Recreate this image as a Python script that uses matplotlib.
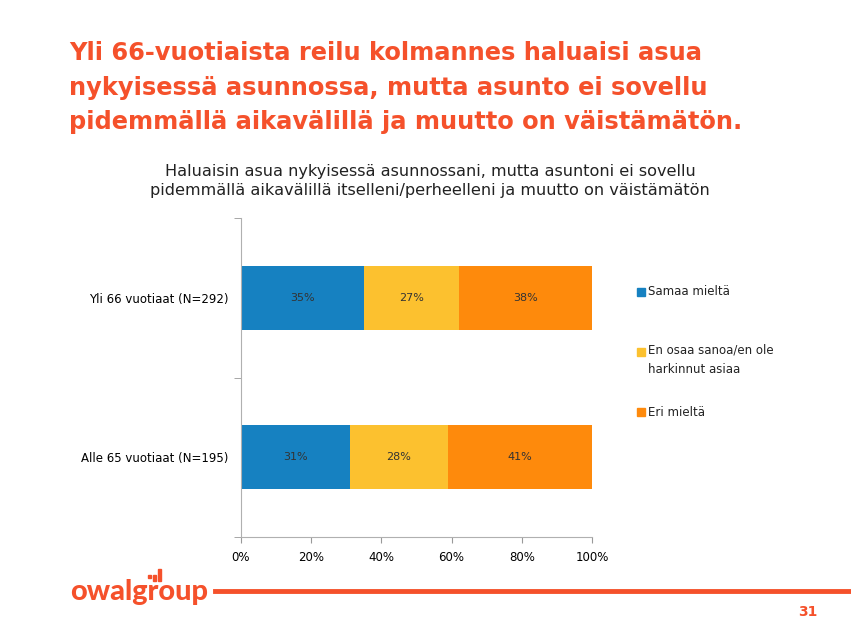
import matplotlib.pyplot as plt
from matplotlib.patches import Rectangle

plt.rcParams['font.family'] = ['DejaVu Sans']

# Data
groups = ['Alle 65 vuotiaat (N=195)', 'Yli 66 vuotiaat (N=292)']
series = ['Samaa mieltä', 'En osaa sanoa/en ole\nharkinnut asiaa', 'Eri mieltä']
values = {
    'Samaa mieltä': [31, 35],
    'En osaa sanoa/en ole\nharkinnut asiaa': [28, 27],
    'Eri mieltä': [41, 38],
}
colors = ['#1681C1', '#FCC12F', '#FE8A0C']
accent = '#F5512B'

fig = plt.figure(figsize=(8.51, 6.38), dpi=100)

# Title
fig.text(69 / 851, 1 - 41 / 638,
         'Yli 66-vuotiaista reilu kolmannes haluaisi asua\n'
         'nykyisessä asunnossa, mutta asunto ei sovellu\n'
         'pidemmällä aikavälillä ja muutto on väistämätön.',
         color=accent, fontsize=17.4, fontweight='bold',
         va='top', ha='left', linespacing=1.56)

# Chart subtitle
fig.text(430 / 851, 1 - 181 / 638,
         'Haluaisin asua nykyisessä asunnossani, mutta asuntoni ei sovellu\n'
         'pidemmällä aikavälillä itselleni/perheelleni ja muutto on väistämätön',
         color='#222222', fontsize=11.6, ha='center', va='center', linespacing=1.35)

ax = fig.add_axes([241 / 851, 1 - 537 / 638, 351 / 851, 319 / 638])
y = list(range(len(groups)))
left = [0] * len(groups)
for name, c in zip(series, colors):
    vals = values[name]
    ax.barh(y, vals, left=left, height=0.4, color=c, label=name)
    for i, (v, l) in enumerate(zip(vals, left)):
        ax.text(l + v / 2, i, f'{v}%', ha='center', va='center', fontsize=8,
                color='#333333')
    left = [a + b for a, b in zip(left, vals)]

ax.set_xlim(0, 100)
ax.set_ylim(-0.5, 1.5)
ax.set_xticks([0, 20, 40, 60, 80, 100])
ax.set_xticklabels([f'{t}%' for t in [0, 20, 40, 60, 80, 100]], fontsize=8.5)
ax.set_yticks(y)
ax.set_yticklabels(groups, fontsize=8.5)
ax.tick_params(axis='y', length=0, pad=9)
ax.set_yticks([-0.5, 0.5, 1.5], minor=True)
ax.tick_params(axis='y', which='minor', length=5, color='#999999')
ax.tick_params(axis='x', length=4, color='#999999', pad=6)
for s in ['top', 'right']:
    ax.spines[s].set_visible(False)
for s in ['left', 'bottom']:
    ax.spines[s].set_color('#b0b0b0')

# Legend (manual layout to match original spacing)
leg_y = [292, 360, 412]
for name, c, ly in zip(series, colors, leg_y):
    top = ly - 8 if '\n' in name else ly
    fig.patches.append(Rectangle((637 / 851, 1 - (top + 4) / 638), 8 / 851, 8 / 638,
                                 transform=fig.transFigure, color=c))
    fig.text(648 / 851, 1 - ly / 638, name, fontsize=8.5, va='center', ha='left',
             color='#222222', linespacing=1.6)

# Footer
fig.text(70 / 851, 1 - 592 / 638, 'owalgroup', color=accent, fontsize=20.8,
         fontweight='black', family='Lato', va='center', ha='left')
for bx, by, bh in [(148, 575, 3), (153, 575, 6), (158, 569, 12)]:
    fig.patches.append(Rectangle((bx / 851, 1 - (by + bh) / 638), 3 / 851, bh / 638,
                                 transform=fig.transFigure, color=accent))
fig.add_artist(plt.Line2D([215 / 851, 1], [1 - 591 / 638, 1 - 591 / 638],
                          color=accent, lw=3.5, transform=fig.transFigure))
fig.text(808 / 851, 1 - 612 / 638, '31', color=accent, fontsize=10,
         fontweight='bold', va='center', ha='center')

fig.savefig('out.png', dpi=100)
